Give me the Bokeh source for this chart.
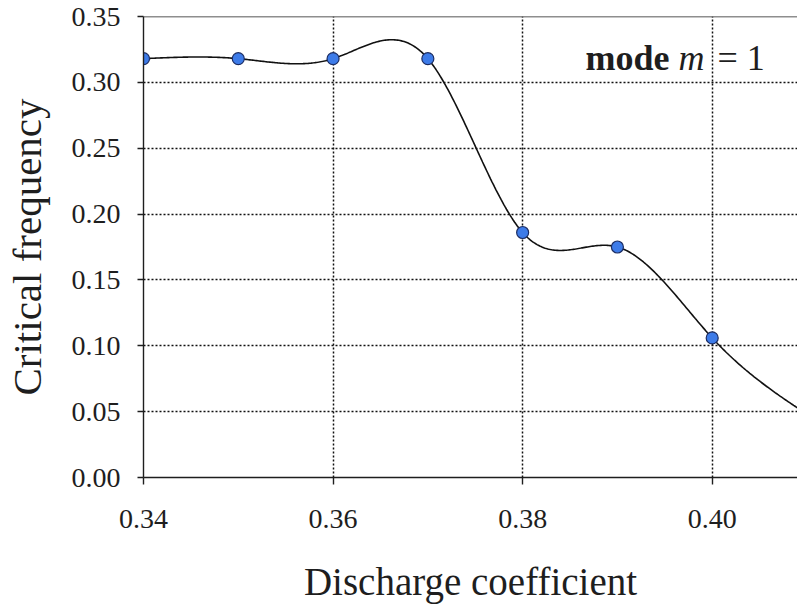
import numpy as np
from bokeh.plotting import figure
from bokeh.models import Range1d, FixedTicker, Label, Span, ColumnDataSource, PrintfTickFormatter
from bokeh.embed import file_html
from bokeh.resources import INLINE

# Critical frequency for each discharge coefficient (last point lies past the right edge)
discharge_coeff = [0.34, 0.35, 0.36, 0.37, 0.38, 0.39, 0.40, 0.41]
critical_freq = [0.318, 0.318, 0.318, 0.318, 0.186, 0.175, 0.106, 0.048]

x_tick_values = [0.34, 0.36, 0.38, 0.40]
y_tick_values = [0.00, 0.05, 0.10, 0.15, 0.20, 0.25, 0.30, 0.35]
x_grid_values = [0.36, 0.38, 0.40]
y_grid_values = [0.05, 0.10, 0.15, 0.20, 0.25, 0.30]

X_MIN, X_MAX = 0.34, 0.409
Y_MIN, Y_MAX = 0.0, 0.35

SERIF = "Liberation Serif"
INK = "#1e1e1e"


def natural_cubic_spline(x, y, xq):
    """Evaluate a natural cubic spline through (x, y) at xq."""
    x = np.asarray(x, float)
    y = np.asarray(y, float)
    xq = np.asarray(xq, float)
    n = len(x)
    h = np.diff(x)
    A = np.zeros((n, n))
    b = np.zeros(n)
    A[0, 0] = 1.0
    A[-1, -1] = 1.0
    for i in range(1, n - 1):
        A[i, i - 1] = h[i - 1]
        A[i, i] = 2.0 * (h[i - 1] + h[i])
        A[i, i + 1] = h[i]
        b[i] = 6.0 * ((y[i + 1] - y[i]) / h[i] - (y[i] - y[i - 1]) / h[i - 1])
    M = np.linalg.solve(A, b)
    idx = np.clip(np.searchsorted(x, xq) - 1, 0, n - 2)
    x0, x1 = x[idx], x[idx + 1]
    y0, y1 = y[idx], y[idx + 1]
    m0, m1 = M[idx], M[idx + 1]
    hh = x1 - x0
    return (m0 * (x1 - xq) ** 3 / (6 * hh) + m1 * (xq - x0) ** 3 / (6 * hh)
            + (y0 / hh - m0 * hh / 6) * (x1 - xq) + (y1 / hh - m1 * hh / 6) * (xq - x0))


curve_x = np.linspace(discharge_coeff[0], discharge_coeff[-1], 500)
curve_y = natural_cubic_spline(discharge_coeff, critical_freq, curve_x)

p = figure(
    width=797, height=605,
    x_range=Range1d(X_MIN, X_MAX), y_range=Range1d(Y_MIN, Y_MAX),
    output_backend="svg", toolbar_location=None,
    min_border_left=143, min_border_right=0, min_border_top=16, min_border_bottom=128,
    x_axis_label="Discharge coefficient", y_axis_label="Critical frequency",
)
p.outline_line_color = None
p.background_fill_color = "white"
p.border_fill_color = "white"

# Axes
p.xaxis.ticker = FixedTicker(ticks=x_tick_values)
p.yaxis.ticker = FixedTicker(ticks=y_tick_values)
for axes in (p.xaxis, p.yaxis):
    axes.formatter = PrintfTickFormatter(format="%.2f")
    axes.axis_line_color = INK
    axes.axis_line_width = 1.4
    axes.major_tick_line_color = INK
    axes.major_tick_line_width = 1.4
    axes.major_tick_in = 0
    axes.minor_tick_line_color = None
    axes.major_label_text_font = SERIF
    axes.major_label_text_font_size = "28px"
    axes.major_label_text_color = INK
    axes.axis_label_text_font = SERIF
    axes.axis_label_text_font_style = "normal"
    axes.axis_label_text_color = INK

p.xaxis.axis_label_text_font_size = "39px"
p.yaxis.axis_label_text_font_size = "41px"
p.xaxis.major_tick_out = 7
p.yaxis.major_tick_out = 6
p.xaxis.major_label_standoff = 25
p.yaxis.major_label_standoff = 17
p.xaxis.axis_label_standoff = 29
p.yaxis.axis_label_standoff = 19

# Dotted grid
p.xgrid.ticker = FixedTicker(ticks=x_grid_values)
p.ygrid.ticker = FixedTicker(ticks=y_grid_values)
p.grid.grid_line_color = "#111111"
p.grid.grid_line_width = 1.5
p.grid.grid_line_dash = "2 2"

# Top frame edge
p.add_layout(Span(location=Y_MAX, dimension="width", line_color=INK, line_width=1.4))

# Spline curve and points
p.line(curve_x, curve_y, line_color="#111111", line_width=1.6)
src = ColumnDataSource(dict(x=discharge_coeff, y=critical_freq))
p.scatter("x", "y", source=src, size=12, fill_color="#3d7be8",
          line_color="#1c2d63", line_width=1.2)

# Annotation: mode m = 1
label_y = 0.3183
p.add_layout(Label(x=0.38663, y=label_y, text="mode", text_font=SERIF,
                   text_font_style="bold", text_font_size="36px",
                   text_color=INK, text_baseline="alphabetic"))
p.add_layout(Label(x=0.39644, y=label_y, text="m", text_font=SERIF,
                   text_font_style="italic", text_font_size="36px",
                   text_color=INK, text_baseline="alphabetic"))
p.add_layout(Label(x=0.40056, y=label_y, text="= 1", text_font=SERIF,
                   text_font_size="36px",
                   text_color=INK, text_baseline="alphabetic"))

open("out.html", "w").write(file_html(p, INLINE))
